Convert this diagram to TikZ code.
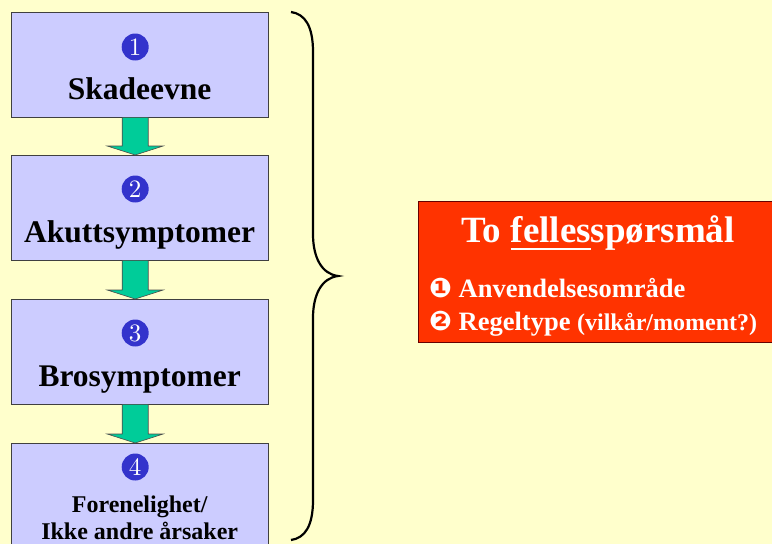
\documentclass[tikz,border=0pt]{standalone}
\usepackage{fontspec}
\setmainfont{Liberation Serif}
\newfontfamily\dingfont{DejaVu Sans}
\newfontfamily\numfont{lmroman10-regular}[Extension=.otf]
\usetikzlibrary{positioning,calc}

\definecolor{paper}{HTML}{FFFFCC}
\definecolor{boxblue}{HTML}{CCCCFF}
\definecolor{dotblue}{HTML}{3333CC}
\definecolor{arrowgreen}{HTML}{00CC99}
\definecolor{alertred}{HTML}{FF3300}

\newcommand\ulbar[1]{\setbox0\hbox{#1}\rlap{\rule[-8pt]{\wd0}{2.5pt}}\box0}
\newcommand\dingnum[1]{{\dingfont\fontsize{27}{27}\selectfont #1}}

\tikzset{
  stepbox/.style={draw=black!75, fill=boxblue, minimum width=257pt, minimum height=105pt, anchor=north west, inner sep=0pt},
  numdot/.style={circle, fill=dotblue, text=white, minimum size=27pt, inner sep=0pt, font=\numfont\fontsize{25}{25}\selectfont},
  steptext/.style={font=\bfseries\fontsize{31.5}{33}\selectfont, anchor=base, inner sep=0pt},
  downarrow/.style={draw=black!70, fill=arrowgreen, line width=0.6pt},
  itemtext/.style={font=\bfseries\fontsize{26.5}{27}\selectfont, text=white, anchor=base west, inner sep=0pt},
}

\begin{document}
\begin{tikzpicture}[x=1pt, y=-1pt]
    \useasboundingbox[fill=paper] (0,0) rectangle (772,544);

    % the four steps
    \node[stepbox] (s1) at (11,12) {};
    \node[stepbox] (s2) at (11,155) {};
    \node[stepbox] (s3) at (11,299) {};
    \node[stepbox] (s4) at (11,443) {};

    \node[numdot] (n1) at ($(s1.north)+(-4.5,35)$) {1};
    \node[numdot] (n2) at ($(s2.north)+(-4.5,34)$) {2};
    \node[numdot] (n3) at ($(s3.north)+(-4.5,34)$) {3};
    \node[numdot] (n4) at ($(s4.north)+(-4.5,24)$) {4};

    \node[steptext] (t1) at ($(s1.north)+(0,87)$) {Skadeevne};
    \node[steptext] (t2) at ($(s2.north)+(0,87)$) {Akuttsymptomer};
    \node[steptext] (t3) at ($(s3.north)+(0,87)$) {Brosymptomer};
    \node[font=\bfseries\fontsize{24}{27}\selectfont, align=center, inner sep=0pt] (t4)
        at ($(s4.north)+(0,75)$) {Forenelighet/\\Ikke andre årsaker};

    % block arrows between the steps
    \foreach \a/\b in {s1/s2,s2/s3,s3/s4}
        \draw[downarrow] ($(\a.south)+(-17.5,0)$) -- ($(\a.south)+(8.5,0)$)
            -- ($(\b.north)+(8.5,-9)$) -- ($(\b.north)+(23.5,-9)$) -- ($(\b.north)+(-4.5,0)$)
            -- ($(\b.north)+(-32.5,-9)$) -- ($(\b.north)+(-17.5,-9)$) -- cycle;

    % brace
    \draw[line width=2.2pt] (291,12) .. controls (305,14) and (313,26) .. (313,52)
        -- (313,234) .. controls (313,258) and (322,274) .. (338,276)
        .. controls (322,278) and (313,294) .. (313,318)
        -- (313,500) .. controls (313,526) and (305,538) .. (291,540);

    % the two common questions
    \node[draw=black!60!red, fill=alertred, minimum width=354pt, minimum height=141pt,
        anchor=north west, inner sep=0pt] (q) at (418,201) {};
    \node[font=\bfseries\fontsize{37}{38}\selectfont, text=white, anchor=base, inner sep=0pt] (qt)
        at ($(q.north)+(3,41)$) {To \ulbar{felles}spørsmål};
    \node[itemtext] (q1) at ($(q.north west)+(11,96)$)
        {\dingnum{❶} Anvendelsesområde};
    \node[itemtext] (q2) at ($(q.north west)+(11,129)$)
        {\dingnum{❷} Regeltype {\fontsize{24}{24}\selectfont(vilkår/moment?)}};
\end{tikzpicture}
\end{document}
